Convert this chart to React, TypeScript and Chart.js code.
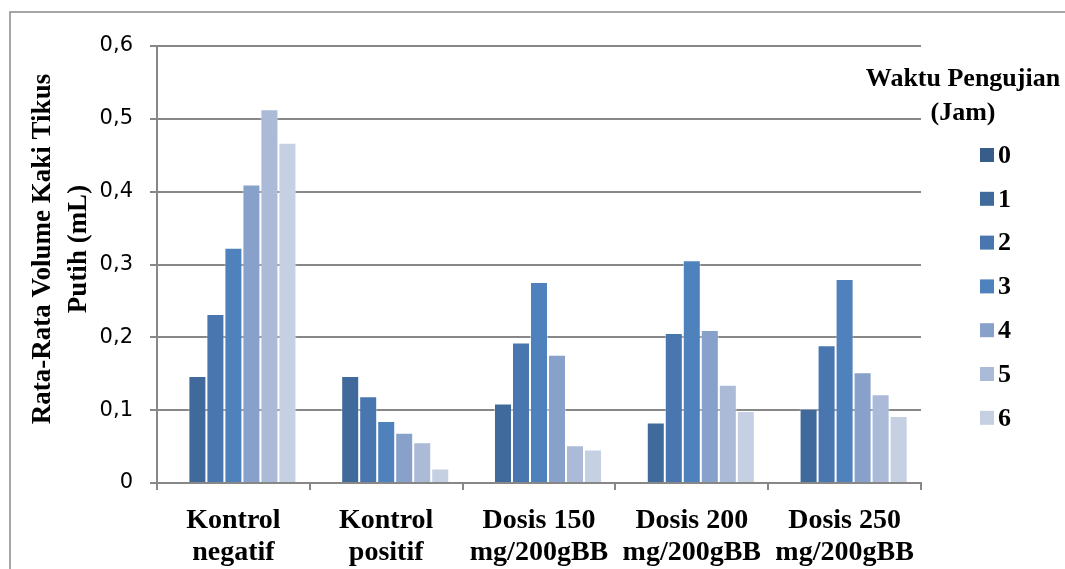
import React, { useEffect, useRef } from "react";
import { Chart, registerables } from "chart.js";

Chart.register(...registerables);

const categories: string[][] = [
  ["Kontrol", "negatif"],
  ["Kontrol", "positif"],
  ["Dosis 150", "mg/200gBB"],
  ["Dosis 200", "mg/200gBB"],
  ["Dosis 250", "mg/200gBB"],
];

const seriesLabels = ["0", "1", "2", "3", "4", "5", "6"];

const jam0: (number | null)[] = [null, null, null, null, null];
const jam1 = [0.147, 0.147, 0.109, 0.083, 0.102];
const jam2 = [0.232, 0.119, 0.193, 0.206, 0.189];
const jam3 = [0.323, 0.085, 0.276, 0.306, 0.280];
const jam4 = [0.410, 0.069, 0.176, 0.210, 0.152];
const jam5 = [0.513, 0.056, 0.052, 0.135, 0.122];
const jam6 = [0.467, 0.020, 0.046, 0.099, 0.092];

const seriesValues = [jam0, jam1, jam2, jam3, jam4, jam5, jam6];

const seriesColors = [
  "#385D8A",
  "#416A9C",
  "#4976AE",
  "#4F81BD",
  "#87A1CB",
  "#AABAD7",
  "#C5D0E2",
];

const yTitleLines = ["Rata-Rata Volume Kaki Tikus", "Putih (mL)"];
const legendTitleLines = ["Waktu Pengujian", "(Jam)"];

const SERIF = "'Liberation Serif', 'Times New Roman', serif";
const GRID = "#878787";

const decorPlugin = {
  id: "decor",
  beforeDraw(chart: any) {
    const ctx = chart.ctx;
    ctx.save();
    ctx.fillStyle = "#ffffff";
    ctx.fillRect(0, 0, chart.width, chart.height);
    ctx.strokeStyle = "#8a8a8a";
    ctx.lineWidth = 1.5;
    ctx.beginPath();
    ctx.moveTo(10, chart.height);
    ctx.lineTo(10, 12);
    ctx.lineTo(chart.width, 12);
    ctx.stroke();
    ctx.restore();
  },
  afterDraw(chart: any) {
    const ctx = chart.ctx;
    ctx.save();
    // y axis title
    ctx.fillStyle = "#000";
    ctx.font = `bold 27px ${SERIF}`;
    ctx.textAlign = "center";
    ctx.textBaseline = "middle";
    const xs = [43, 79];
    yTitleLines.forEach((line, i) => {
      ctx.save();
      ctx.translate(xs[i], 249);
      ctx.rotate(-Math.PI / 2);
      ctx.fillText(line, 0, 0);
      ctx.restore();
    });
    // legend title
    ctx.font = `bold 26px ${SERIF}`;
    ctx.fillText(legendTitleLines[0], 963, 79);
    ctx.fillText(legendTitleLines[1], 963, 113);
    // legend items
    chart.data.datasets.forEach((ds: any, i: number) => {
      const cy = 155 + i * 43.8;
      ctx.fillStyle = ds.backgroundColor;
      ctx.fillRect(980, cy - 7, 14, 14);
      ctx.fillStyle = "#000";
      ctx.textAlign = "left";
      ctx.font = `bold 26px ${SERIF}`;
      ctx.fillText(ds.label, 998, cy + 1);
    });
    ctx.restore();
  },
};

export default function App() {
  const ref = useRef<HTMLCanvasElement | null>(null);

  useEffect(() => {
    if (!ref.current) return;
    const chart = new Chart(ref.current, {
      type: "bar",
      data: {
        labels: categories,
        datasets: seriesLabels.map((label, i) => ({
          label,
          data: seriesValues[i],
          backgroundColor: seriesColors[i],
          borderColor: "rgba(255,255,255,0.45)",
          borderWidth: 1,
          borderSkipped: "bottom",
          barPercentage: 1,
          categoryPercentage: 0.825,
        })),
      },
      options: {
        responsive: false,
        animation: false,
        layout: { padding: { left: 0, right: 144, top: 46, bottom: 0 } },
        plugins: {
          legend: { display: false },
          tooltip: { enabled: false },
          title: { display: false },
        },
        scales: {
          x: {
            afterFit: (s: any) => {
              s.height = 86;
            },
            grid: {
              offset: true,
              drawOnChartArea: false,
              drawTicks: true,
              tickLength: 7,
              color: GRID,
              lineWidth: 2,
            },
            border: { display: true, color: GRID, width: 2 },
            ticks: {
              color: "#000",
              padding: 14,
              maxRotation: 0,
              autoSkip: false,
              font: { family: SERIF, size: 28, weight: "bold", lineHeight: 1.17 },
            },
          },
          y: {
            min: 0,
            max: 0.6,
            afterFit: (s: any) => {
              s.width = 157;
            },
            grid: {
              color: GRID,
              lineWidth: 2,
              drawTicks: true,
              tickLength: 7,
            },
            border: { display: true, color: GRID, width: 2 },
            ticks: {
              stepSize: 0.1,
              color: "#000",
              padding: 17,
              font: { family: "'DejaVu Sans', sans-serif", size: 21 },
              callback: (v: any) => {
                const n = Number(v);
                if (Math.abs(n) < 1e-9) return "0";
                return n.toFixed(1).replace(".", ",");
              },
            },
          },
        },
      },
      plugins: [decorPlugin],
    } as any);
    return () => chart.destroy();
  }, []);

  return (
    <div
      style={{
        position: "fixed",
        left: 0,
        top: 0,
        width: 1065,
        height: 569,
        background: "#fff",
      }}
    >
      <canvas ref={ref} width={1065} height={569} style={{ display: "block" }} />
    </div>
  );
}
